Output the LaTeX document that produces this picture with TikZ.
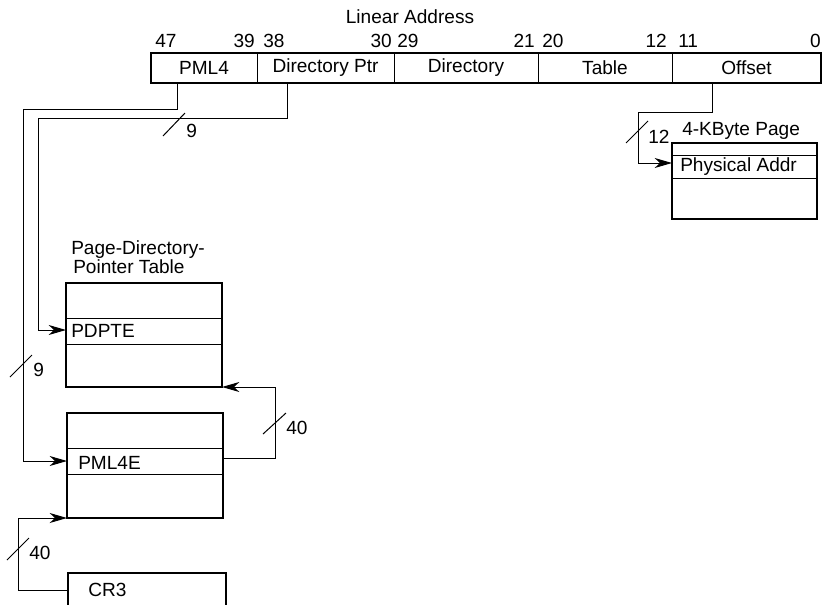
\documentclass[tikz,border=0pt]{standalone}
\usepackage{fontspec}
\setmainfont{Liberation Sans}
\usetikzlibrary{arrows.meta,positioning}

\tikzset{
  field/.style={draw,line width=0.75pt,minimum height=22.5pt,inner sep=0pt,outer sep=0pt,anchor=north west},
  tablebox/.style={draw,line width=1.5pt,inner sep=0pt,outer sep=0pt,anchor=north west},
  rowline/.style={line width=0.75pt},
  entry/.style={inner sep=0pt,anchor=base west},
  bit/.style={inner sep=0pt},
  link/.style={line width=0.75pt,-{Stealth[length=13pt,width=7.5pt,inset=4pt]}},
  tick/.style={line width=0.75pt}
}

\begin{document}
\begin{tikzpicture}[x=0.75pt,y=-0.75pt,font=\fontsize{14.3}{16}\selectfont]
  \useasboundingbox (0,0) rectangle (825,604);
  \clip (0,0) rectangle (825,604);

  % Linear address
  \node[bit,anchor=base] (linaddr) at (410,23) {Linear Address};
  \node[field,minimum width=79.5pt] (pml4) at (151,53) {PML4};
  \node[field,minimum width=102.75pt,right=0pt of pml4] (dirptr) {Directory Ptr};
  \node[field,minimum width=108pt,right=0pt of dirptr] (dir) {Directory};
  \node[field,minimum width=100.5pt,right=0pt of dir] (table) {Table};
  \node[field,minimum width=111.75pt,right=0pt of table] (offset) {Offset};
  \draw[line width=1.5pt] (pml4.north west) rectangle (offset.south east);

  % Bit positions
  \node[bit,anchor=base west] at (155,47) {47};
  \node[bit,anchor=base east] at (255,47) {39};
  \node[bit,anchor=base west] at (263,47) {38};
  \node[bit,anchor=base east] at (392,47) {30};
  \node[bit,anchor=base west] at (397,47) {29};
  \node[bit,anchor=base east] at (535,47) {21};
  \node[bit,anchor=base west] at (542,47) {20};
  \node[bit,anchor=base east] at (667,47) {12};
  \node[bit,anchor=base west] at (678,47) {11};
  \node[bit,anchor=base east] at (821,47) {0};

  % 4-KByte page
  \node[bit,anchor=base west] (pagettl) at (682,135) {4-KByte Page};
  \node[tablebox,minimum width=108.75pt,minimum height=57pt] (page) at (672,143) {};
  \draw[rowline] (page.west |- 0,155) -- (page.east |- 0,155);
  \draw[rowline] (page.west |- 0,178) -- (page.east |- 0,178);
  \node[entry] (physaddr) at (680,171) {Physical Addr};

  % Page-directory-pointer table
  \node[bit,anchor=base west] (pdptttl) at (71,254) {Page-Directory-};
  \node[bit,anchor=base west] (pdptttl2) at (73,273) {Pointer Table};
  \node[tablebox,minimum width=117pt,minimum height=78pt] (pdpt) at (66,283) {};
  \draw[rowline] (pdpt.west |- 0,318) -- (pdpt.east |- 0,318);
  \draw[rowline] (pdpt.west |- 0,344) -- (pdpt.east |- 0,344);
  \node[entry] (pdpte) at (71,337) {PDPTE};

  % PML4 table
  \node[tablebox,minimum width=117pt,minimum height=78.75pt] (pml4t) at (67,413) {};
  \draw[rowline] (pml4t.west |- 0,448) -- (pml4t.east |- 0,448);
  \draw[rowline] (pml4t.west |- 0,474) -- (pml4t.east |- 0,474);
  \node[entry] (pml4e) at (78,469) {PML4E};

  % CR3
  \node[tablebox,minimum width=118.5pt,minimum height=25.5pt] (cr3) at (68,573) {};
  \node[entry] (cr3txt) at (88,596) {CR3};

  % Connectors
  \draw[link] (pml4.south west) ++(26,0) -- ++(0,26) -| (23,461) -- (pml4t.west |- 0,461);
  \draw[link] (dirptr.south west) ++(30,0) -- ++(0,35) -| (38,330) -- (pdpt.west |- 0,330);
  \draw[link] (offset.south west) ++(40,0) -- ++(0,29) -| (638,163) -- (page.west |- 0,163);
  \draw[link] (pml4t.east |- 0,458) -- ++(52,0) |- (pdpt.south east);
  \draw[link] (cr3.west |- 0,590) -- ++(-50,0) |- (pml4t.south west);

  % Widths
  \draw[tick] (163,136) -- (185,113);
  \node[bit,anchor=base west] at (186,137) {9};
  \draw[tick] (10,377) -- (32,355);
  \node[bit,anchor=base west] at (33,376) {9};
  \draw[tick] (626,143) -- (648,121);
  \node[bit,anchor=base west] at (648,143) {12};
  \draw[tick] (263,434) -- (286,413);
  \node[bit,anchor=base west] at (286,434) {40};
  \draw[tick] (7,560) -- (29,538);
  \node[bit,anchor=base west] at (29,559) {40};
\end{tikzpicture}
\end{document}
